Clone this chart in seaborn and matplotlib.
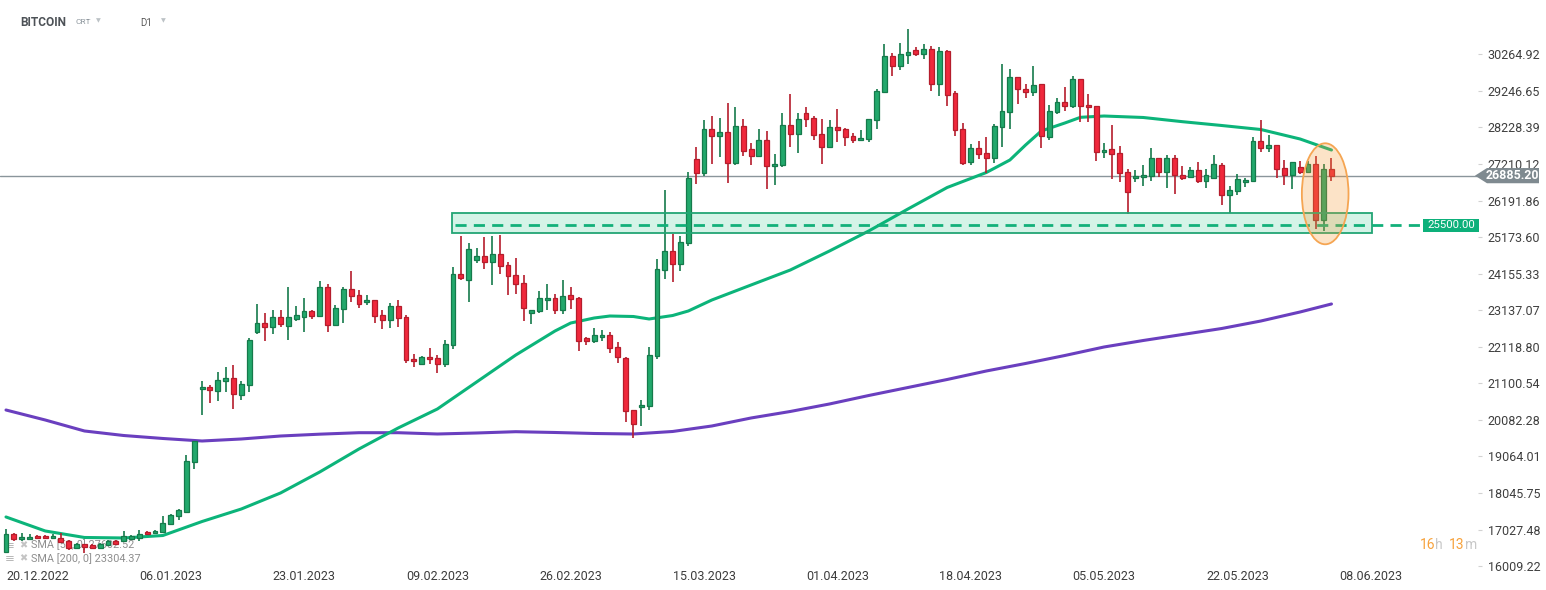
import numpy as np
import pandas as pd
import matplotlib
matplotlib.use("Agg")
import matplotlib.pyplot as plt
import matplotlib.transforms as mtransforms
from matplotlib.patches import Rectangle, Ellipse, Polygon
import seaborn as sns

# ---------------- data ----------------
start_date = "2022-12-20"

opens = [16404, 16905, 16766, 16766, 16840, 16840, 16794, 16794, 16710, 16515,
         16627, 16607, 16515, 16590, 16710, 16702, 16766, 16794, 16961, 16933,
         16961, 17184, 17415, 17526, 18902, 20935, 20999, 20896, 21158, 21250,
         20768, 21047, 22517, 22773, 22656, 22940, 22706, 22901, 22957, 23116,
         22968, 23776, 22717, 23163, 23720, 23553, 23358, 23414, 22996, 22857,
         23247, 22940, 21779, 21631, 21826, 21798, 21631, 22160, 24138, 23971,
         24528, 24639, 24472, 24695, 24388, 24110, 23887, 23052, 23107, 23414,
         23469, 23135, 23553, 23469, 22355, 22272, 22383, 22439, 22105, 21798,
         20350, 20434, 20462, 21854, 24249, 24778, 24416, 25001, 27340, 26951,
         28176, 27981, 28092, 27229, 28260, 27619, 27424, 27870, 27145, 27173,
         28287, 28037, 28622, 28482, 28037, 27675, 28232, 28176, 27981, 27870,
         27897, 28427, 29206, 30209, 29931, 30237, 30376, 30265, 30404, 29429,
         30348, 29179, 28176, 27257, 27647, 27508, 27368, 28232, 28649, 29624,
         29290, 29206, 29429, 27953, 28649, 28928, 28817, 29568, 28844, 28817,
         27535, 27619, 27508, 26978, 26811, 26839, 26867, 27368, 26978, 27368,
         26895, 26839, 27034, 26728, 26811, 27173, 26338, 26449, 26700, 26728,
         27842, 27647, 27730, 27090, 26895, 27118, 26978, 27201, 25642, 27062]

closes = [16905, 16766, 16822, 16822, 16794, 16794, 16849, 16691, 16507, 16627,
          16551, 16524, 16627, 16710, 16627, 16849, 16849, 16905, 16905, 16989,
          17220, 17443, 17565, 18938, 19487, 20999, 20907, 21194, 21250, 20796,
          21074, 22308, 22773, 22656, 22940, 22745, 22940, 22996, 23116, 22968,
          23776, 22717, 23191, 23720, 23525, 23302, 23414, 22968, 22857, 23247,
          22912, 21743, 21715, 21826, 21770, 21631, 22188, 24138, 24026, 24834,
          24639, 24472, 24695, 24361, 24082, 23859, 23191, 23135, 23469, 23469,
          23135, 23542, 23442, 22272, 22272, 22439, 22439, 22077, 21826, 20322,
          19960, 20489, 21882, 24277, 24778, 24416, 25029, 26811, 26951, 28176,
          27981, 28092, 27229, 28260, 27563, 27424, 27870, 27145, 27201, 28287,
          28037, 28454, 28454, 28009, 27675, 28232, 28148, 27953, 27870, 27925,
          28454, 29234, 30209, 29931, 30265, 30320, 30265, 30404, 29429, 30348,
          29123, 28148, 27229, 27647, 27480, 27368, 28260, 28677, 29624, 29290,
          29206, 29401, 27981, 28677, 28928, 28817, 29568, 28817, 28789, 27535,
          27591, 27480, 26951, 26421, 26867, 26895, 27368, 26978, 27368, 26895,
          26811, 27034, 26728, 26895, 27201, 26338, 26477, 26783, 26756, 27842,
          27647, 27730, 27062, 26895, 27257, 26978, 27201, 25642, 27062, 26885]

highs = [17044, 16933, 16933, 16905, 16880, 16870, 16914, 16940, 16730, 16650,
         16640, 16630, 16650, 16730, 16730, 16989, 16870, 17016, 16975, 17005,
         17406, 17460, 17610, 19105, 19500, 21166, 21055, 21417, 21556, 21612,
         21166, 22364, 23311, 23060, 23143, 23143, 23784, 23255, 23478, 23130,
         23951, 23868, 23283, 23784, 24230, 23700, 23561, 23430, 23143, 23338,
         23422, 22996, 21910, 21854, 22077, 21882, 22299, 24333, 25204, 25001,
         24862, 25177, 25204, 25232, 24472, 24583, 24110, 23150, 23664, 23859,
         23581, 23971, 23776, 23497, 22383, 22634, 22578, 22522, 22244, 21826,
         20350, 20629, 22105, 24555, 26485, 25260, 25204, 26978, 27675, 28427,
         28546, 28482, 28908, 28789, 28454, 27786, 28176, 28120, 27480, 28622,
         29151, 28622, 28789, 28538, 28454, 28427, 28733, 28200, 28065, 28148,
         28470, 29290, 30543, 30293, 30571, 30970, 30460, 30543, 30496, 30460,
         30376, 29234, 28343, 27758, 27842, 27953, 28315, 29986, 29847, 29640,
         29429, 29931, 29445, 28844, 29039, 29346, 29652, 29580, 29151, 28830,
         27786, 28287, 27703, 27062, 27034, 27173, 27647, 27380, 27452, 27452,
         27145, 27118, 27257, 27062, 27452, 27229, 26588, 26923, 26811, 27953,
         28427, 28009, 27745, 27313, 27270, 27285, 27285, 27424, 27201, 27368]

lows = [16390, 16710, 16710, 16750, 16766, 16770, 16780, 16654, 16459, 16500,
        16376, 16500, 16500, 16580, 16610, 16690, 16750, 16710, 16890, 16920,
        16950, 17156, 17295, 17510, 18724, 20219, 20562, 20618, 20868, 20395,
        20645, 20868, 22483, 22288, 22483, 22662, 22316, 22846, 22539, 22884,
        22950, 22522, 22700, 22773, 23358, 23208, 23274, 22773, 22623, 22634,
        22678, 21676, 21548, 21620, 21631, 21381, 21548, 22049, 23971, 23358,
        24444, 24277, 23831, 24138, 23575, 23597, 22829, 22745, 23052, 23135,
        23024, 23024, 23163, 21993, 22160, 22216, 22272, 21938, 21659, 20033,
        19570, 19905, 20350, 21770, 23998, 23915, 24221, 24934, 26644, 26884,
        27201, 27396, 26672, 27173, 27424, 27173, 27410, 26505, 26616, 27118,
        27675, 27508, 28232, 27870, 27201, 27647, 27814, 27703, 27786, 27860,
        27814, 28176, 29190, 29652, 29819, 29986, 30209, 30125, 29234, 29095,
        28817, 27981, 27173, 27173, 27340, 26951, 27229, 27675, 28176, 28872,
        29039, 29095, 27647, 27870, 28595, 28677, 28761, 28371, 28371, 27285,
        27368, 26783, 26700, 25809, 26700, 26588, 26728, 26839, 26533, 26366,
        26756, 26825, 26672, 26533, 26783, 26059, 25837, 26338, 26561, 26715,
        27535, 27535, 26811, 26616, 26505, 26923, 26965, 25391, 25335, 26728]

# moving averages sampled along the drawn lines (day offset -> value)
sma50_days = [0, 5, 10, 15, 20, 25, 30, 35, 40, 45, 50, 55, 60, 65, 70, 72, 75,
              77, 80, 82, 85, 87, 90, 95, 100, 105, 110, 115, 120, 125, 128, 130,
              132, 135, 137, 140, 145, 150, 155, 160, 165, 169]
sma50 = [17379, 16989, 16808, 16794, 16863, 17253, 17601, 18047, 18632, 19272,
         19857, 20386, 21138, 21890, 22559, 22781, 22921, 22976, 22962, 22893,
         22990, 23116, 23422, 23840, 24257, 24787, 25344, 25956, 26555, 26973,
         27321, 27739, 28129, 28351, 28510, 28546, 28505, 28388, 28282, 28170,
         27906, 27599]
sma200_days = [0, 5, 10, 15, 20, 25, 30, 35, 40, 45, 50, 55, 60, 65, 70, 75, 80,
               85, 90, 95, 100, 105, 110, 115, 120, 125, 130, 135, 140, 145, 150,
               155, 160, 165, 169]
sma200 = [20358, 20080, 19774, 19648, 19565, 19495, 19551, 19634, 19685, 19726,
          19726, 19690, 19718, 19754, 19732, 19704, 19690, 19760, 19913, 20136,
          20317, 20526, 20762, 20985, 21208, 21445, 21654, 21876, 22113, 22294,
          22461, 22628, 22837, 23088, 23311]

price_ticks = [16009.22, 17027.48, 18045.75, 19064.01, 20082.28, 21100.54,
               22118.80, 23137.07, 24155.33, 25173.60, 26191.86, 27210.12,
               28228.39, 29246.65, 30264.92]
date_labels = ["20.12.2022", "06.01.2023", "23.01.2023", "09.02.2023",
               "26.02.2023", "15.03.2023", "01.04.2023", "18.04.2023",
               "05.05.2023", "22.05.2023", "08.06.2023"]
last_price = 26885.20
support_level = 25500.00
zone_low, zone_high = 25280, 25835
zone_start_day, zone_end_day = 56.9, 174.2
sma50_label = "SMA [50, 0] 27602.52"
sma200_label = "SMA [200, 0] 23304.37"

# ---------------- styling ----------------
sns.set_style("white")
plt.rcParams["font.family"] = ["Roboto", "DejaVu Sans"]

W, H = 1546, 590
fig = plt.figure(figsize=(W / 100, H / 100), dpi=100)
fig.patch.set_facecolor("white")
ax = fig.add_axes([0, 1 - 566.2 / H, 1478 / W, 566.2 / H])
ax.set_facecolor("white")
for s in ax.spines.values():
    s.set_visible(False)

o = np.array(opens, float)
c = np.array(closes, float)
hi = np.array(highs, float)
lo = np.array(lows, float)
n = len(o)
idx = np.arange(n)
up = c >= o

g_fill, g_edge = "#22a86c", "#157a4b"
r_fill, r_edge = "#f0283c", "#b51d2c"
fills = np.where(up, g_fill, r_fill)
edges = np.where(up, g_edge, r_edge)

# SMA lines
sns.lineplot(x=sma200_days, y=sma200, ax=ax, color="#6a3fbf", linewidth=2.2,
             zorder=2, legend=False)
sns.lineplot(x=sma50_days, y=sma50, ax=ax, color="#0cb47a", linewidth=2.2,
             zorder=2, legend=False)

# candles
ax.vlines(idx, lo, hi, colors=edges, linewidth=1.2, zorder=3)
ax.bar(idx, np.maximum(np.abs(c - o), 30), bottom=np.minimum(o, c), width=0.62,
       color=fills, edgecolor=edges, linewidth=0.9, zorder=4)

# current price line
ax.axhline(last_price, color="#8a959b", linewidth=1, zorder=1.5)

# support zone
ax.add_patch(Rectangle((zone_start_day, zone_low), zone_end_day - zone_start_day,
                       zone_high - zone_low, facecolor=(0.0, 0.72, 0.45, 0.17),
                       edgecolor="#22a574", linewidth=1.3, zorder=5))
tr = mtransforms.blended_transform_factory(fig.transFigure, ax.transData)
ax.hlines(support_level, zone_start_day + 0.3, (1423 - 6) / 7.843,
          colors="#12b07a", linestyles=(0, (4, 2.6)), linewidth=2, zorder=6,
          clip_on=False)

# highlight ellipse
ax.add_patch(Ellipse((168.2, 26380), 5.95, 2813,
                     facecolor=(0.97, 0.6, 0.2, 0.27), edgecolor="#f5a552",
                     linewidth=1.3, zorder=7))

# price tag
half = 7.6 * 27.85
ax.add_patch(Polygon([(1475 / W, last_price), (1487 / W, last_price + half),
                      (1539 / W, last_price + half), (1539 / W, last_price - half),
                      (1487 / W, last_price - half)], closed=True, transform=tr,
                     facecolor="#7f8a90", edgecolor="none", clip_on=False, zorder=10))
ax.text(1512 / W, last_price, f"{last_price:.2f}", transform=tr, ha="center",
        va="center", color="white", fontsize=8.9, fontweight="bold",
        zorder=11, clip_on=False)

# support tag
ax.add_patch(Rectangle((1423 / W, support_level - 190), 56 / W, 380, transform=tr,
                       facecolor="#0db07a", edgecolor="none", clip_on=False,
                       zorder=10))
ax.text(1451 / W, support_level, f"{support_level:.2f}", transform=tr,
        ha="center", va="center", color="white", fontsize=8.2, zorder=11,
        clip_on=False)

# axes scales
ax.set_xlim(-6 / 7.843, -6 / 7.843 + 1478 / 7.843)
ax.set_ylim(16008, 31777)

ax.yaxis.tick_right()
ax.set_yticks(price_ticks)
ax.set_yticklabels([f"{v:.2f}" for v in price_ticks])
ax.tick_params(axis="y", right=True, left=False, length=3, width=0.8,
               color="#d2d2d2", pad=4, labelsize=9, labelcolor="#3f3f3f")

dates = pd.date_range(start_date, periods=n)
tick_pos = [(pd.to_datetime(d, format="%d.%m.%Y") - dates[0]).days for d in date_labels]
ax.set_xticks(tick_pos)
ax.set_xticklabels(date_labels)
for lbl in ax.get_xticklabels():
    lbl.set_horizontalalignment("left")
ax.tick_params(axis="x", length=0, pad=2.5, labelsize=9, labelcolor="#3d3d3d")
ax.grid(False)


def fx(x):
    return x / W


def fy(y):
    return 1 - y / H


# legend texts (under candles)
for yy, lab in [(545, sma50_label), (558.3, sma200_label)]:
    ax.text(fx(5), fy(yy), "≡", transform=fig.transFigure, ha="left", va="center",
            fontsize=8.5, color="#b9b9b9", family="DejaVu Sans", zorder=1)
    ax.text(fx(19), fy(yy), "✖", transform=fig.transFigure, ha="left", va="center",
            fontsize=7, color="#c4c4c4", family="DejaVu Sans", zorder=1)
    ax.text(fx(31), fy(yy), lab, transform=fig.transFigure, ha="left", va="center",
            fontsize=7.8, color="#8e8e8e", zorder=1)

# header
fig.text(fx(20), fy(22), "BITCOIN", ha="left", va="center", fontsize=8.6,
         fontweight="bold", color="#4d5257")
fig.text(fx(75), fy(22), "CRT", ha="left", va="center", fontsize=6,
         color="#8c959c")
fig.text(fx(96), fy(21), "▼", ha="left", va="center", fontsize=4.5,
         color="#bcc2c6", family="DejaVu Sans")
fig.text(fx(140), fy(22.5), "D1", ha="left", va="center", fontsize=7,
         color="#5a5a5a")
fig.text(fx(161), fy(21), "▼", ha="left", va="center", fontsize=4.5,
         color="#bcc2c6", family="DejaVu Sans")

# timer
for xx, s, col in [(1419.5, "16", "#f7a23c"), (1435.5, "h", "#c8c8c8"),
                   (1449, "13", "#f7a23c"), (1465.5, "m", "#c8c8c8")]:
    fig.text(fx(xx), fy(545), s, ha="left", va="center", fontsize=10, color=col)

fig.savefig("out.png", dpi=100, facecolor="white")
